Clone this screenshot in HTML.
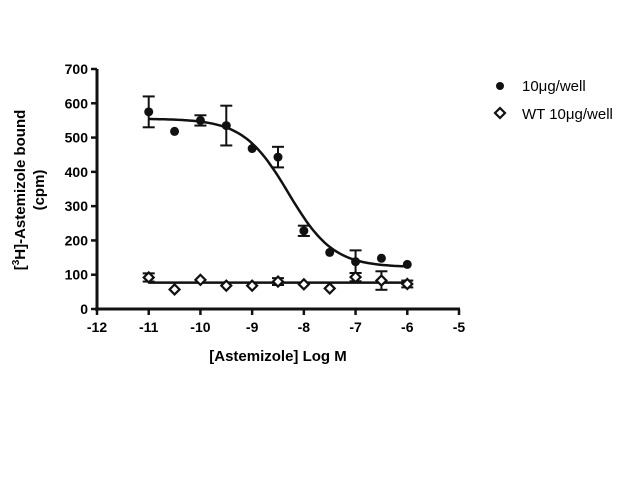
<!DOCTYPE html>
<html><head><meta charset="utf-8"><style>
body{margin:0;background:#fff;}
svg{display:block;font-family:"Liberation Sans",Arial,sans-serif;}
</style></head><body>
<svg id="chart" width="640" height="480">
<g id="axes"></g><g id="marks"></g>
<g font-weight="bold" font-size="15" text-anchor="middle">
<text transform="translate(25,190) rotate(-90)">[<tspan font-size="10" dy="-6">3</tspan><tspan dy="6">H]-Astemizole bound</tspan></text>
<text transform="translate(44,190) rotate(-90)">(cpm)</text>
</g>
<text x="278" y="361" font-weight="bold" font-size="15" text-anchor="middle">[Astemizole] Log M</text>
<g font-size="15">
<circle cx="500" cy="86" r="4" fill="#111"/>
<text x="522" y="91">10μg/well</text>
<path d="M500,108 L505,113 L500,118 L495,113 Z" fill="#fff" stroke="#111" stroke-width="2.2"/>
<text x="522" y="119">WT 10μg/well</text>
</g>
</svg>
<script>
const xTicks=[-12,-11,-10,-9,-8,-7,-6,-5];
const yTicks=[0,100,200,300,400,500,600,700];
const logConc=[-11,-10.5,-10,-9.5,-9,-8.5,-8,-7.5,-7,-6.5,-6];
const bound=[575,518,550,535,468,443,228,165,138,148,130];
const boundErr=[45,0,15,58,0,30,15,0,33,0,0];
const wt=[92,57,85,68,68,80,72,60,93,83,73];
const wtErr=[12,0,0,0,0,10,0,0,12,27,10];
const fitTop=555,fitBottom=122,logIC50=-8.3,hill=1.0,wtMean=77;
const X=v=>97+(v+12)*(459-97)/7;
const Y=v=>309-v*(309-69)/700;
const ns="http://www.w3.org/2000/svg";
function mk(p,t,a){const e=document.createElementNS(ns,t);for(const k in a)e.setAttribute(k,a[k]);p.appendChild(e);return e;}
const ax=document.getElementById('axes'),mg=document.getElementById('marks');
let e=mk(ax,'line',{x1:97,y1:69,x2:97,y2:311,stroke:'#111','stroke-width':3});


e=mk(ax,'line',{x1:95,y1:309,x2:460,y2:309,stroke:'#111','stroke-width':3});


yTicks.forEach(v=>{mk(ax,'line',{x1:91,x2:97,y1:Y(v),y2:Y(v),stroke:'#111','stroke-width':2.5});
const t=mk(ax,'text',{x:88,y:Y(v)+5,'text-anchor':'end','font-size':14,'font-weight':'bold'});t.textContent=v;

});
xTicks.forEach(v=>{mk(ax,'line',{x1:X(v),x2:X(v),y1:309,y2:315,stroke:'#111','stroke-width':2.5});
const t=mk(ax,'text',{x:X(v),y:332,'text-anchor':'middle','font-size':14,'font-weight':'bold'});t.textContent=v;

});
// fit curves
let d='';for(let i=0;i<=100;i++){const x=-11+5*i/100;const y=fitBottom+(fitTop-fitBottom)/(1+Math.pow(10,(x-logIC50)*hill));d+=(i?'L':'M')+X(x).toFixed(1)+','+Y(y).toFixed(1);}
e=mk(mg,'path',{d:d,fill:'none',stroke:'#111','stroke-width':2.5});


e=mk(mg,'line',{x1:X(-11),x2:X(-6),y1:Y(wtMean),y2:Y(wtMean),stroke:'#111','stroke-width':2.5});


function err(x,y,s){if(!s)return;const g=mk(mg,'g',{stroke:'#111','stroke-width':2});
mk(g,'line',{x1:X(x),x2:X(x),y1:Y(y-s),y2:Y(y+s)});
mk(g,'line',{x1:X(x)-6,x2:X(x)+6,y1:Y(y-s),y2:Y(y-s)});
mk(g,'line',{x1:X(x)-6,x2:X(x)+6,y1:Y(y+s),y2:Y(y+s)});

}
logConc.forEach((x,i)=>{err(x,bound[i],boundErr[i]);
const c=mk(mg,'circle',{cx:X(x),cy:Y(bound[i]),r:4.5,fill:'#111'});


err(x,wt[i],wtErr[i]);
const cx=X(x),cy=Y(wt[i]);
const p=mk(mg,'path',{d:`M${cx},${cy-5}L${cx+5},${cy}L${cx},${cy+5}L${cx-5},${cy}Z`,fill:'#fff',stroke:'#111','stroke-width':2.2});

});
</script>
</body></html>
